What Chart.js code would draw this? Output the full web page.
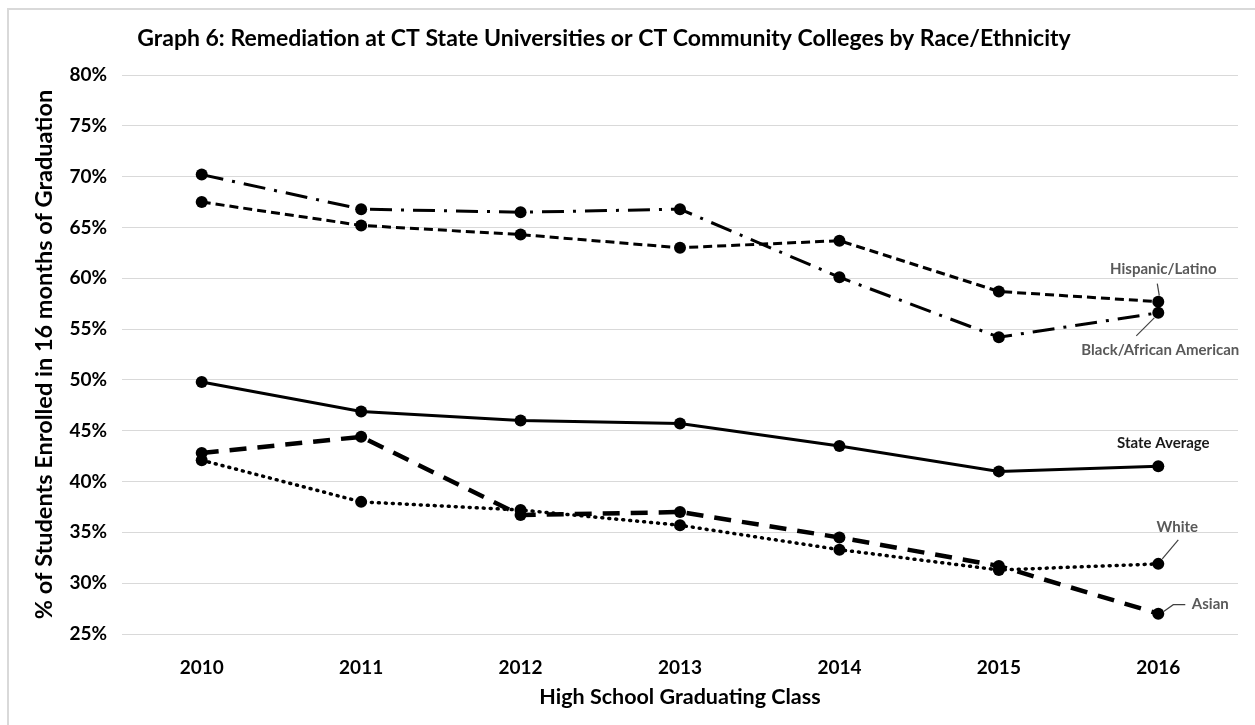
<!DOCTYPE html>
<html>
<head>
<meta charset="utf-8">
<script src="https://cdn.jsdelivr.net/npm/chart.js@4"></script>
<style>
  html, body { margin: 0; padding: 0; background: #fff; }
  #wrap { position: relative; width: 1255px; height: 725px; overflow: hidden; }
  #frame { position: absolute; left: 7px; top: 8px; width: 1300px; height: 800px;
           border-top: 2px solid #d9d9d9; border-left: 2px solid #d9d9d9; }
  canvas { position: absolute; left: 0; top: 0; }
</style>
</head>
<body>
<div id="wrap">
  <div id="frame"></div>
  <canvas id="chart" width="1255" height="725"></canvas>
</div>
<script>
// data
const years = ["2010", "2011", "2012", "2013", "2014", "2015", "2016"];
const blackAfrican = [70.2, 66.8, 66.5, 66.8, 60.1, 54.2, 56.6];
const hispanicLatino = [67.5, 65.2, 64.3, 63.0, 63.7, 58.7, 57.7];
const stateAverage = [49.8, 46.9, 46.0, 45.7, 43.5, 41.0, 41.5];
const asian = [42.8, 44.4, 36.7, 37.0, 34.5, 31.7, 27.0];
const white = [42.1, 38.0, 37.2, 35.7, 33.3, 31.3, 31.9];
const yTicks = [25, 30, 35, 40, 45, 50, 55, 60, 65, 70, 75, 80];

const FONT = "Lato, 'Liberation Sans', sans-serif";

// labels at the end of each line: [text, dataset index, dx, dy, leader line, colour]
const endLabels = [
  ["Hispanic/Latino", 1, 5, -32, [[-1, -18], [1, -6]], "#595959"],
  ["Black/African American", 0, 2, 37, [[-22, 23], [-4, 5]], "#595959"],
  ["State Average", 2, 5, -23, null, "#1a1a1a"],
  ["White", 4, 19, -37, [[20, -24], [4, -5]], "#595959"],
  ["Asian", 3, 52, -10, [[5, -2], [15, -9], [27, -9]], "#595959"]
];

const endLabelPlugin = {
  id: "endLabels",
  afterDatasetsDraw(chart) {
    const ctx = chart.ctx;
    ctx.save();
    endLabels.forEach(([text, idx, dx, dy, leader, color]) => {
      const pt = chart.getDatasetMeta(idx).data[years.length - 1];
      if (leader) {
        ctx.beginPath();
        ctx.strokeStyle = "#404040";
        ctx.lineWidth = 1.2;
        leader.forEach(([lx, ly], i) => {
          if (i === 0) ctx.moveTo(pt.x + lx, pt.y + ly);
          else ctx.lineTo(pt.x + lx, pt.y + ly);
        });
        ctx.stroke();
      }
      ctx.fillStyle = color;
      ctx.font = "bold 15px " + FONT;
      ctx.textAlign = "center";
      ctx.textBaseline = "middle";
      ctx.fillText(text, pt.x + dx, pt.y + dy);
    });
    // chart title
    ctx.fillStyle = "#000";
    ctx.font = "bold 23px " + FONT;
    ctx.textAlign = "center";
    ctx.textBaseline = "middle";
    ctx.fillText("Graph 6: Remediation at CT State Universities or CT Community Colleges by Race/Ethnicity", 604, 39);
    ctx.restore();
  }
};

const lineSet = (label, data, dash, width) => ({
  label: label,
  data: data,
  borderColor: "#000",
  backgroundColor: "#000",
  borderWidth: width,
  borderDash: dash,
  borderCapStyle: dash.length && dash[0] <= 2 ? "round" : "butt",
  pointRadius: 6,
  pointHoverRadius: 6,
  pointBorderWidth: 0,
  pointBackgroundColor: "#000",
  tension: 0,
  fill: false
});

new Chart(document.getElementById("chart").getContext("2d"), {
  type: "line",
  data: {
    labels: years,
    datasets: [
      lineSet("Black/African American", blackAfrican, [22, 9, 3, 9], 3),
      lineSet("Hispanic/Latino", hispanicLatino, [9, 5], 3),
      lineSet("State Average", stateAverage, [], 3),
      lineSet("Asian", asian, [17, 11], 4.5),
      lineSet("White", white, [1, 6], 3.5)
    ]
  },
  options: {
    responsive: false,
    animation: false,
    layout: { padding: { top: 75, left: 30, right: 17, bottom: 0 } },
    plugins: {
      legend: { display: false },
      tooltip: { enabled: false }
    },
    scales: {
      x: {
        offset: true,
        grid: { display: false, drawTicks: false },
        border: { display: false },
        ticks: { color: "#000", padding: 22, font: { family: FONT, size: 19, weight: "bold" } },
        title: {
          display: true,
          text: "High School Graduating Class",
          color: "#000",
          font: { family: FONT, size: 21.5, weight: "bold" },
          padding: { top: 0, bottom: 15 }
        },
        afterFit: (scale) => { scale.height = 91; }
      },
      y: {
        min: 25,
        max: 80,
        afterBuildTicks: (scale) => { scale.ticks = yTicks.map((v) => ({ value: v })); },
        grid: { color: "#d9d9d9", lineWidth: 1, drawTicks: false },
        border: { display: false },
        ticks: {
          color: "#000",
          padding: 15,
          font: { family: FONT, size: 19, weight: "bold" },
          callback: (v) => v + "%"
        },
        title: {
          display: true,
          text: "% of Students Enrolled in 16 months of Graduation",
          color: "#000",
          font: { family: FONT, size: 23.5, weight: "bold" },
          padding: { top: 0, bottom: 0 }
        },
        afterFit: (scale) => { scale.width = 92; }
      }
    }
  },
  plugins: [endLabelPlugin]
});
</script>
</body>
</html>
